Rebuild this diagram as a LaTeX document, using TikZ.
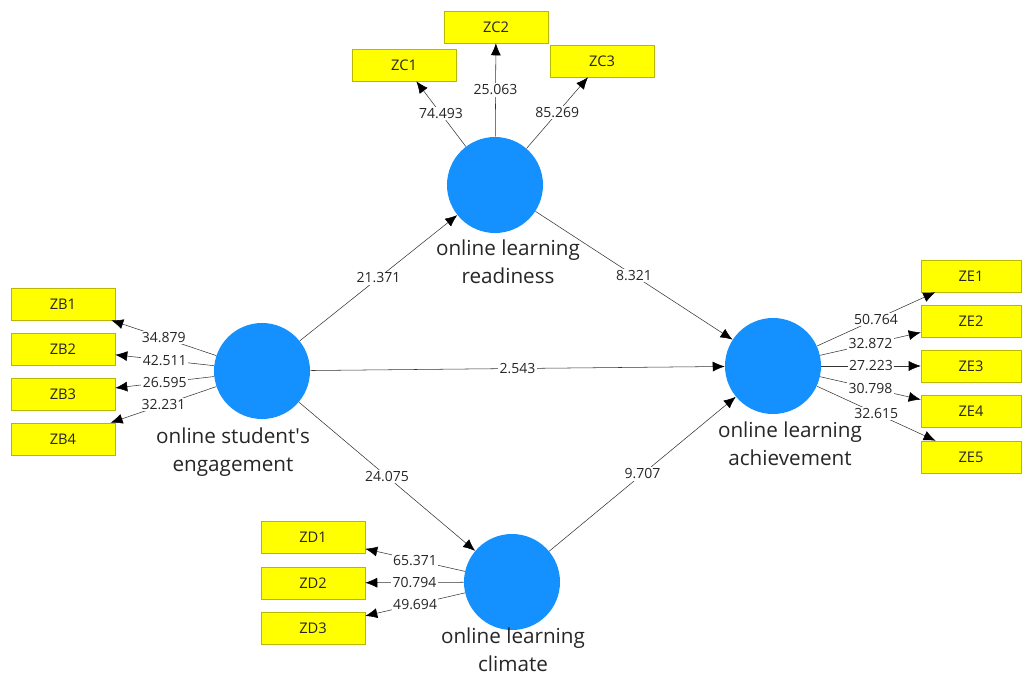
\documentclass[tikz,border=0pt]{standalone}
\usepackage{fontspec}
\setmainfont{Open Sans}
\usepackage{tikz}
\usetikzlibrary{arrows.meta}
\usepackage{xcolor}
\definecolor{lvblue}{HTML}{1490FF}
\definecolor{mvyellow}{HTML}{FFFF00}
\definecolor{mvborder}{HTML}{B8B800}
\tikzstyle{latent} = [circle, fill=lvblue, minimum size=72pt, inner sep=0pt]
\tikzstyle{indicator} = [rectangle, draw=mvborder, fill=mvyellow, minimum width=78pt, minimum height=24pt, inner sep=0pt, text=black!85, font=\fontsize{11}{12}\selectfont]
\tikzstyle{lvname} = [align=center, text=black!85, font=\fontsize{15.5}{21}\selectfont]
\tikzstyle{weight} = [fill=white, inner sep=1pt, text=black!85, font=\fontsize{10.5}{12}\selectfont]
\tikzstyle{arrow} = [draw=black!80, -{Latex[length=9pt,width=7.5pt,color=black]}]

\begin{document}
\begin{tikzpicture}[x=0.75pt, y=-0.75pt]
    \useasboundingbox (0,0) rectangle (1022,675);

    % latent variables
    \node (eng) [latent] at (262,371) {};
    \node (rea) [latent] at (495,185) {};
    \node (ach) [latent] at (773,366) {};
    \node (cli) [latent] at (512,582) {};

    \node (engname) [lvname] at (233,452) {online student\textquotesingle s\\engagement};
    \node (reaname) [lvname] at (508,262) {online learning\\readiness};
    \node (achname) [lvname] at (790,444) {online learning\\achievement};
    \node (cliname) [lvname] at (513,650) {online learning\\climate};

    % indicators
    \node (zb1) [indicator] at (63,304) {ZB1};
    \node (zb2) [indicator] at (63,349) {ZB2};
    \node (zb3) [indicator] at (63,394) {ZB3};
    \node (zb4) [indicator] at (63,439) {ZB4};

    \node (zc1) [indicator] at (404,65) {ZC1};
    \node (zc2) [indicator] at (496,27) {ZC2};
    \node (zc3) [indicator] at (602,61) {ZC3};

    \node (zd1) [indicator] at (313,537) {ZD1};
    \node (zd2) [indicator] at (313,583) {ZD2};
    \node (zd3) [indicator] at (313,628) {ZD3};

    \node (ze1) [indicator, minimum width=75pt] at (971,276) {ZE1};
    \node (ze2) [indicator, minimum width=75pt] at (971,321) {ZE2};
    \node (ze3) [indicator, minimum width=75pt] at (971,366) {ZE3};
    \node (ze4) [indicator, minimum width=75pt] at (971,411) {ZE4};
    \node (ze5) [indicator, minimum width=75pt] at (971,457) {ZE5};

    % outer weights
    \foreach \i/\j/\w in {eng/zb1/34.879, eng/zb2/42.511, eng/zb3/26.595, eng/zb4/32.231,
                          rea/zc1/74.493, rea/zc2/25.063, rea/zc3/85.269,
                          cli/zd1/65.371, cli/zd2/70.794, cli/zd3/49.694,
                          ach/ze1/50.764, ach/ze2/32.872, ach/ze3/27.223, ach/ze4/30.798, ach/ze5/32.615} {
        \draw [arrow] (\i) -- node[weight] {\w} (\j);
    }

    % inner model
    \foreach \i/\j/\w in {eng/rea/21.371, rea/ach/8.321, eng/ach/2.543, eng/cli/24.075, cli/ach/9.707} {
        \draw [arrow] (\i) -- node[weight] {\w} (\j);
    }
\end{tikzpicture}
\end{document}
